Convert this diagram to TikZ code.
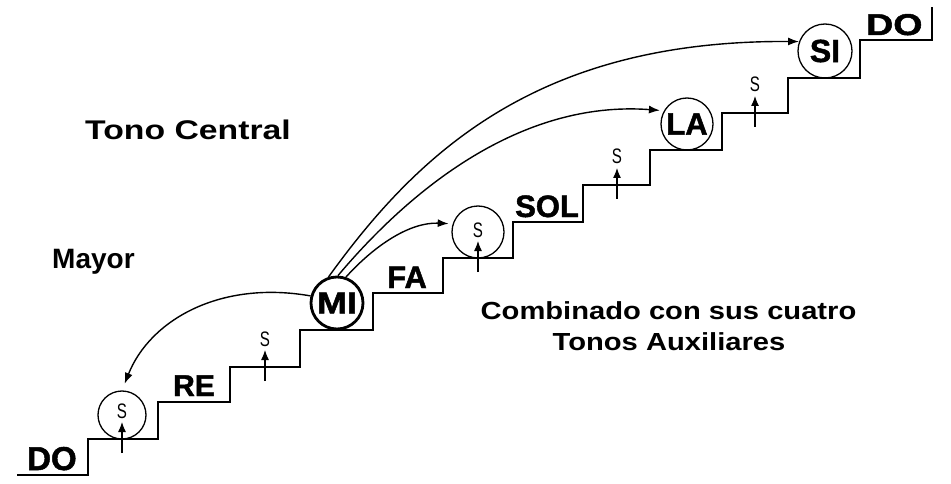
\documentclass[tikz,border=0pt]{standalone}
\usepackage{fontspec}
\setmainfont{Liberation Sans}
\newfontfamily\heavyfont[BoldFeatures={FakeBold=1.5}]{Liberation Sans}
\usetikzlibrary{arrows.meta}
\begin{document}
\begin{tikzpicture}[x=1pt,y=-1pt,
  stair/.style={line width=1.9pt, line join=miter},
  ring/.style={circle, draw, line width=1.3pt, inner sep=0pt},
  conn/.style={line width=1.4pt, -{Latex[length=11pt,width=8pt]}},
  sarrow/.style={line width=1.2pt, -{Latex[length=10pt,width=8pt]}},
  lbl/.style={anchor=base west, inner sep=0pt},
  slbl/.style={anchor=base, inner sep=0pt, font=\fontsize{21}{21}\selectfont},
  txt/.style={inner sep=0pt}
]
\fill[white] (0,0) rectangle (951,484);
\useasboundingbox (0,0) rectangle (951,484);

% staircase
\draw[stair] (17,475) -| (88,439) -| (158,402) -| (230,367) -| (300,330)
  -| (373,293) -| (443,258) -| (513,222) -| (583,185) -| (650,150)
  -| (722,113) -| (788,78) -| (860,40) -| (932,7);

% step labels
\node[lbl, font=\fontsize{33}{33}\selectfont\heavyfont\bfseries] (do1) at (27,470) {DO};
\node[lbl, font=\fontsize{30}{30}\selectfont\heavyfont\bfseries] (re) at (173,396) {RE};
\node[lbl, font=\fontsize{31}{31}\selectfont\heavyfont\bfseries] (fa) at (387,288) {FA};
\node[lbl, font=\fontsize{31}{31}\selectfont\heavyfont\bfseries] (sol) at (515,217) {SOL};
\node[lbl, font=\fontsize{30}{30}\selectfont\heavyfont\bfseries] (do2) at (866,35) {\scalebox{1.25}[1]{DO}};

% circles
\node[ring, minimum size=48pt] (s1) at (122,415) {};
\node[circle, draw, line width=2.8pt, minimum size=52pt, inner sep=0pt] (mi) at (337,303)
  {\scalebox{1.2}[1]{\fontsize{30}{30}\selectfont\heavyfont\bfseries MI}};
\node[ring, minimum size=52pt] (s6) at (478,232) {};
\node[ring, minimum size=52pt] (la) at (687,124) {\fontsize{31}{31}\selectfont\heavyfont\bfseries LA};
\node[ring, minimum size=54pt] (si) at (825,51) {\fontsize{32}{32}\selectfont\heavyfont\bfseries SI};

% semitone arrows
\foreach \x/\y [count=\i] in {122/439, 265/367, 478/258, 617/185, 755/113} {
  \coordinate (sa\i) at (\x,\y+14);
  \coordinate (sb\i) at (\x,\y-17);
  \draw[sarrow] (sa\i) -- (sb\i);
  \node[slbl] (sl\i) at (\x,\y-21) {\scalebox{0.72}[1]{S}};
}

% curved connectors from MI
\draw[conn, shorten >=7pt] (mi.165) .. controls (220,280) and (150,320) .. (s1.north);
\draw[conn, shorten >=4pt] (mi.71) .. controls (375,245) and (410,222) .. (s6.162);
\draw[conn, shorten >=4pt] (mi.88) .. controls (410,190) and (520,100) .. (la.150);
\draw[conn] (mi.108) .. controls (420,150) and (540,40) .. (si.160);

% texts
\node[txt, anchor=base west, font=\fontsize{27}{27}\selectfont\bfseries] (tono) at (85,140)
  {\scalebox{1.25}[1]{Tono Central}};
\node[txt, anchor=base west, font=\fontsize{28}{28}\selectfont\bfseries] (mayor) at (52,268) {Mayor};
\node[txt, anchor=base, font=\fontsize{24.7}{24.7}\selectfont\bfseries] (comb) at (668.5,319)
  {\scalebox{1.18}[1]{Combinado con sus cuatro}};
\node[txt, anchor=base, font=\fontsize{24.7}{24.7}\selectfont\bfseries] (aux) at (669,350)
  {\scalebox{1.18}[1]{Tonos Auxiliares}};
\end{tikzpicture}
\end{document}
